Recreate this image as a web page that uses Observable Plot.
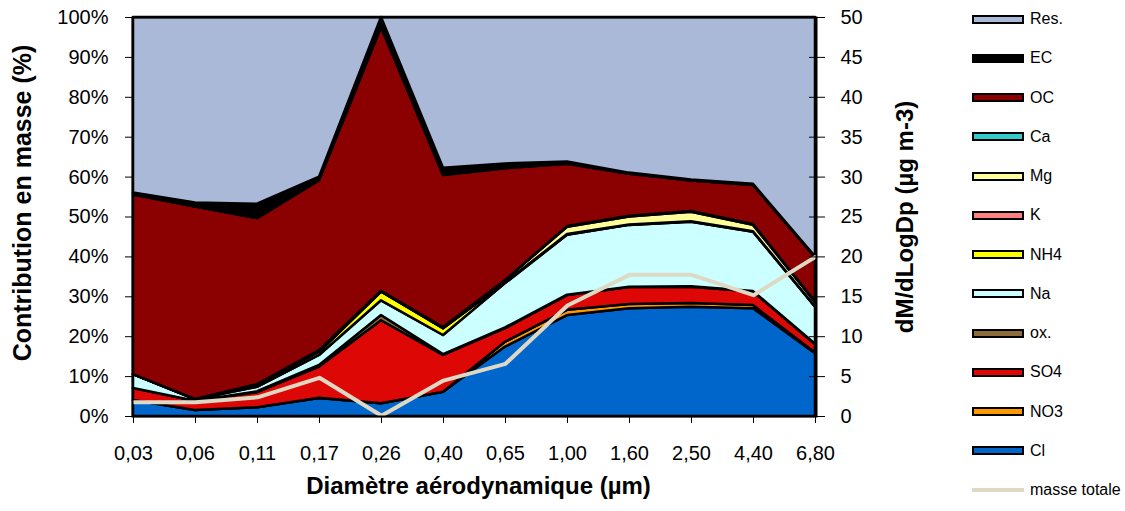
<!DOCTYPE html>
<html>
<head>
<meta charset="utf-8">
<script src="https://cdn.jsdelivr.net/npm/d3@7"></script>
<script src="https://cdn.jsdelivr.net/npm/@observablehq/plot@0.6"></script>
<style>
  body { margin: 0; background: white; font-family: "Liberation Sans", Arial, sans-serif; }
  #wrap { position: relative; width: 1125px; height: 511px; overflow: hidden; background: white; }
  #chart { position: absolute; left: 0; top: 0; }
  .sw { position: absolute; box-sizing: border-box; border: 2px solid #000; }
  .lab { position: absolute; font-size: 16px; line-height: 20px; height: 20px; color: #000; white-space: nowrap; }
  .ln { position: absolute; height: 4px; }
</style>
</head>
<body>
<div id="wrap"><div id="chart"></div></div>
<script>
// Categories (aerodynamic diameter, µm)
const diameters = ["0,03","0,06","0,11","0,17","0,26","0,40","0,65","1,00","1,60","2,50","4,40","6,80"];

// Mass contribution (%) of each species, bottom to top
const Cl  = [4.0, 1.5, 2.2, 4.5, 3.2, 6.1, 17.4, 25.3, 27.0, 27.4, 27.0, 15.7];
const NO3 = [0.0, 0.0, 0.0, 0.1, 0.0, 0.0, 1.2, 1.3, 1.1, 0.9, 0.8, 0.2];
const SO4 = [3.0, 2.3, 3.8, 7.8, 20.8, 9.2, 3.4, 3.7, 4.2, 4.1, 3.4, 2.1];
const ox  = [0.0, 0.0, 0.2, 0.4, 1.3, 0.2, 0.2, 0.1, 0.1, 0.1, 0.1, 0.1];
const Na  = [3.5, 0.4, 1.1, 2.5, 3.7, 4.8, 11.1, 15.0, 15.5, 16.2, 14.9, 9.3];
const NH4 = [0.0, 0.1, 0.5, 0.8, 2.2, 1.7, 0.2, 0.2, 0.1, 0.1, 0.1, 0.1];
const K   = [0.0, 0.0, 0.0, 0.0, 0.0, 0.0, 0.0, 0.0, 0.0, 0.0, 0.0, 0.0];
const Mg  = [0.0, 0.0, 0.2, 0.4, 0.2, 0.3, 0.6, 1.8, 2.0, 2.4, 1.6, 1.1];
const Ca  = [0.0, 0.0, 0.0, 0.0, 0.0, 0.0, 0.0, 0.2, 0.2, 0.2, 0.2, 0.1];
const OC  = [45.0, 48.2, 41.6, 42.6, 66.1, 38.1, 28.0, 15.6, 10.5, 7.6, 9.8, 11.1];
const EC  = [0.5, 1.0, 3.6, 0.9, 2.5, 1.8, 1.2, 0.6, 0.3, 0.3, 0.3, 0.2];
const Res = [44.0, 46.5, 46.8, 40.0, 0.0, 37.8, 36.7, 36.2, 39.0, 40.7, 41.8, 60.0];

// Total mass (dM/dLogDp, µg m-3) – right axis
const masseTotale = [1.8, 1.8, 2.4, 4.85, 0.1, 4.5, 6.6, 13.9, 17.75, 17.75, 15.2, 20.0];

// Series names and colours (stack order bottom -> top)
const seriesNames = ["Cl","NO3","SO4","ox.","Na","NH4","K","Mg","Ca","OC","EC","Res."];
const seriesValues = [Cl, NO3, SO4, ox, Na, NH4, K, Mg, Ca, OC, EC, Res];
const seriesColors = ["#0066CC","#FF9900","#DD0806","#8E6B3A","#CCFFFF","#FFFF00","#FF8080","#FFFF99","#33CCCC","#8B0000","#000000","#AAB9D7"];
const lineColor = "#DDD9C4";

// Tick labels
const leftTicks = [0,10,20,30,40,50,60,70,80,90,100];
const rightTicks = [0,5,10,15,20,25,30,35,40,45,50];
const rightMax = 50;

// Legend order (top -> bottom)
const legendOrder = ["Res.","EC","OC","Ca","Mg","K","NH4","Na","ox.","SO4","NO3","Cl"];
const lineLegend = "masse totale";

// Titles
const yTitle = "Contribution en masse (%)";
const y2Title = "dM/dLogDp (µg m-3)";
const xTitle = "Diamètre aérodynamique (µm)";

// Build long table
const table = [];
seriesNames.forEach((s, j) => {
  diameters.forEach((d, i) => table.push({x: d, series: s, value: seriesValues[j][i]}));
});
const massTable = diameters.map((d, i) => ({x: d, mass: masseTotale[i]}));
const scaleK = 100 / rightMax;

const chart = Plot.plot({
  width: 940,
  height: 511,
  marginLeft: 132,
  marginRight: 124,
  marginTop: 17,
  marginBottom: 95,
  style: {fontFamily: "'Liberation Sans', Arial, sans-serif", fontSize: "20px", background: "white", color: "black", overflow: "visible"},
  x: {type: "point", domain: diameters, padding: 0, label: null},
  y: {domain: [0, 100], label: null},
  color: {domain: seriesNames, range: seriesColors},
  marks: [
    Plot.areaY(table, {x: "x", y: "value", z: "series", fill: "series", stroke: "black", strokeWidth: 2.5, order: seriesNames}),
    Plot.line(massTable, {x: "x", y: d => d.mass * scaleK, stroke: lineColor, strokeWidth: 4}),
    Plot.frame({stroke: "black", strokeWidth: 2}),
    Plot.axisX({tickSize: 7, tickPadding: 22, fontSize: 20, label: null}),
    Plot.axisY({anchor: "left", ticks: leftTicks, tickFormat: d => d + "%", tickSize: 7, tickPadding: 17, fontSize: 20, label: null}),
    Plot.axisY({anchor: "right", ticks: rightTicks.map(v => v * scaleK), tickFormat: d => String(Math.round(d / scaleK)), tickSize: 8, tickPadding: 16, fontSize: 20, label: null}),
    Plot.axisY({anchor: "right", ticks: rightTicks.map(v => v * scaleK), tickFormat: () => "", tickSize: -8, label: null}),
    Plot.text([yTitle], {text: d => d, frameAnchor: "left", textAnchor: "middle", dx: -110, dy: -14, rotate: -90, fontSize: 25, fontWeight: "bold"}),
    Plot.text([y2Title], {text: d => d, frameAnchor: "right", textAnchor: "middle", dx: 89, rotate: -90, fontSize: 24, fontWeight: "bold"}),
    Plot.text([xTitle], {text: d => d, frameAnchor: "bottom", textAnchor: "middle", dx: 4, dy: 77, fontSize: 24, fontWeight: "bold"})
  ]
});
document.getElementById("chart").appendChild(chart);

// Legend
const wrap = document.getElementById("wrap");
const colorOf = Object.fromEntries(seriesNames.map((s, i) => [s, seriesColors[i]]));
const rowStart = 19, rowStep = 39.25;
legendOrder.forEach((s, i) => {
  const cy = rowStart + i * rowStep;
  const sw = document.createElement("div");
  sw.className = "sw";
  sw.style.left = "972px"; sw.style.top = (cy - 4.5) + "px";
  sw.style.width = "52px"; sw.style.height = "9px";
  sw.style.background = colorOf[s];
  wrap.appendChild(sw);
  const lb = document.createElement("div");
  lb.className = "lab";
  lb.style.left = "1030px"; lb.style.top = (cy - 10) + "px";
  lb.textContent = s;
  wrap.appendChild(lb);
});
{
  const cy = rowStart + legendOrder.length * rowStep;
  const ln = document.createElement("div");
  ln.className = "ln";
  ln.style.left = "972px"; ln.style.top = (cy - 2) + "px"; ln.style.width = "52px";
  ln.style.background = lineColor;
  wrap.appendChild(ln);
  const lb = document.createElement("div");
  lb.className = "lab";
  lb.style.left = "1030px"; lb.style.top = (cy - 10) + "px";
  lb.textContent = lineLegend;
  wrap.appendChild(lb);
}
</script>
</body>
</html>
